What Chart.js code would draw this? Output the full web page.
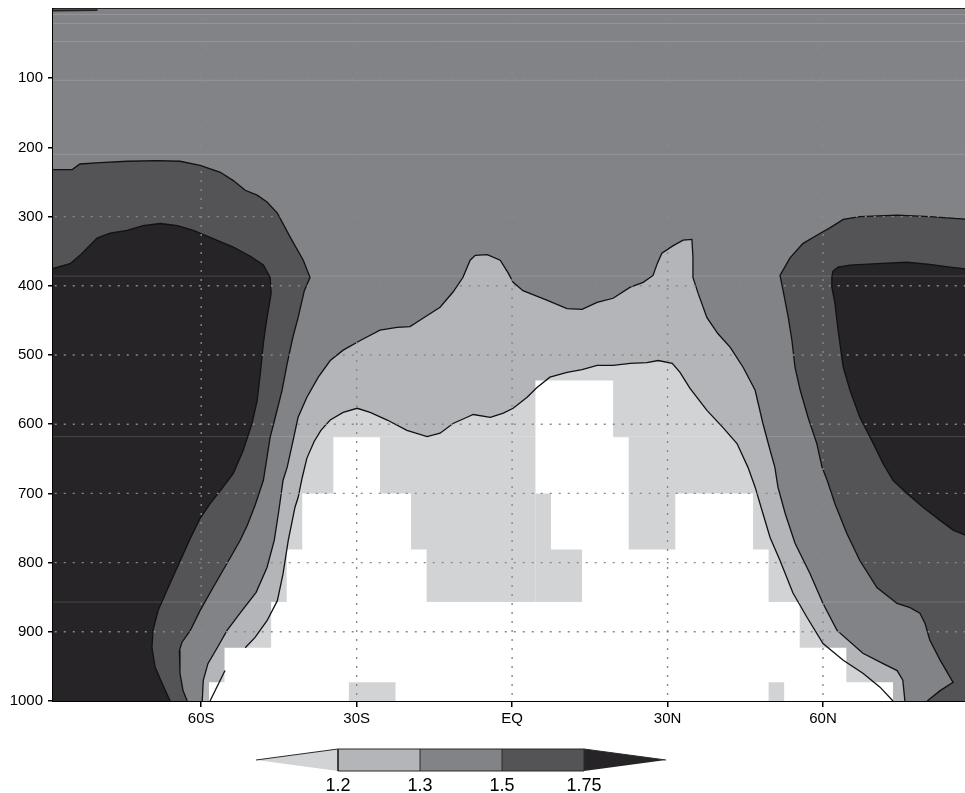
<!DOCTYPE html>
<html>
<head>
<meta charset="utf-8">
<title>Zonal mean cross-section</title>
<script src="https://cdn.jsdelivr.net/npm/chart.js@4.4.1/dist/chart.umd.min.js"></script>
<style>
  html, body { margin: 0; padding: 0; background: #fff; overflow: hidden; }
  canvas { display: block; }
</style>
</head>
<body>
<canvas id="plot" width="965" height="735"></canvas>
<canvas id="bar" width="965" height="58"></canvas>
<script>
// axes
const latTicks = [-60, -30, 0, 30, 60];
const latLabels = ['60S', '30S', 'EQ', '30N', '60N'];
const presTicks = [100, 200, 300, 400, 500, 600, 700, 800, 900, 1000];
const gridPres = [100, 200, 300, 400, 500, 600, 700, 800, 900];

// contour levels and the shade used below / between / above them
const levels = [1.2, 1.3, 1.5, 1.75];
const shades = ['#d2d3d5', '#b4b5b8', '#828387', '#545456', '#262426'];

// contours, [lat, hPa]
const c150South = [[-90,232],[-84.9,232],[-83.4,224],[-79.5,222],[-74.3,220],[-68.5,219],[-64.1,220],[-60.2,226],
  [-56.3,236],[-53.8,248],[-51.5,262],[-49.2,269],[-47.3,279],[-45.3,295],[-42.8,330],[-40.3,363],[-39.0,388],
  [-40.1,407],[-41.3,446],[-42.3,474],[-43.4,512],[-44.4,551],[-45.7,590],[-46.7,619],[-47.3,648],[-48.0,681],
  [-49.6,717],[-51.1,746],[-52.5,768],[-55.0,801],[-57.7,836],[-60.2,869],[-62.1,898],[-63.7,915],[-64.2,927],
  [-64.1,960],[-63.5,985],[-62.7,1000]];

const c175South = [[-90,378],[-85.3,368],[-83.4,356],[-80.1,331],[-77.6,324],[-74.3,320],[-71.2,313],[-67.9,310],
  [-64.6,313],[-61.5,320],[-58.3,330],[-53.8,344],[-50.6,357],[-48.0,370],[-46.7,388],[-46.5,411],[-47.3,446],
  [-48.0,483],[-48.6,527],[-49.2,566],[-50.2,599],[-51.9,638],[-53.8,671],[-56.3,696],[-58.3,715],[-60.2,736],
  [-62.1,765],[-64.2,800],[-66.6,840],[-68.3,869],[-69.3,898],[-69.5,923],[-68.9,951],[-67.5,975],[-66.0,1000]];

const c150North = [[90,305],[80.6,300],[74.3,298],[67.1,300],[63.9,304],[61.4,316],[58.8,327],[56.1,339],[53.6,360],
  [51.7,385],[52.3,407],[53.3,446],[54.0,479],[54.6,518],[55.6,551],[57.1,590],[58.8,628],[59.8,662],[60.8,681],
  [62.3,715],[64.6,758],[67.1,797],[70.4,836],[74.3,859],[76.8,865],[78.7,873],[79.7,888],[80.6,912],[82.6,941],
  [85.1,973],[82.6,985],[80.1,1000]];

const c175North = [[90,378],[84.5,373],[80.6,369],[76.2,366],[70.4,368],[65.2,370],[62.9,373],[61.9,379],[61.7,388],
  [61.7,402],[62.3,425],[62.9,464],[63.9,518],[65.2,551],[67.1,590],[69.1,619],[71.6,657],[73.5,681],[76.2,700],
  [79.3,720],[82.6,739],[85.1,753],[90,768]];

const c130 = [[-59.8,1000],[-59.6,970],[-58.7,946],[-56.9,923],[-55.0,898],[-52.5,873],[-49.4,843],[-47.3,807],
  [-45.9,768],[-45.0,724],[-44.2,681],[-43.4,662],[-42.4,628],[-41.3,590],[-39.6,561],[-37.4,532],[-35.1,508],
  [-32.6,493],[-29.3,479],[-25.5,464],[-22.2,460],[-19.7,459],[-17.2,447],[-13.9,431],[-11.4,409],[-9.5,388],
  [-8.1,363],[-7.1,356],[-4.8,355],[-2.3,363],[-0.8,381],[0.2,395],[2.1,407],[6.8,421],[10.6,433],[13.5,434],
  [16.4,424],[19.5,418],[22.8,402],[25.3,395],[27.2,385],[28.0,368],[28.9,353],[31.1,342],[33.0,334],[34.7,333],
  [34.9,359],[34.9,388],[35.9,411],[37.6,446],[39.7,469],[42.1,489],[44.6,518],[46.9,551],[48.4,599],[49.8,638],
  [50.7,662],[51.3,691],[52.7,729],[54.6,772],[57.5,816],[60.0,859],[62.7,898],[67.7,931],[71.6,946],[74.3,956],
  [75.4,970],[75.8,1000]];

const c120 = [[-58.3,1000],[-55.4,956],[-51.5,923],[-49.6,908],[-47.3,884],[-45.3,855],[-44.2,816],[-43.2,768],
  [-41.9,720],[-41.3,706],[-40.5,677],[-39.6,649],[-38.2,625],[-36.9,609],[-35.1,594],[-32.6,583],[-29.9,577],
  [-27.4,583],[-24.1,594],[-20.3,609],[-16.4,618],[-13.9,613],[-11.4,599],[-8.7,590],[-7.5,586],[-4.2,590],
  [-1.7,584],[0.2,577],[2.9,561],[4.8,547],[7.3,532],[10.6,525],[13.5,521],[16.4,515],[19.5,515],[22.8,512],
  [26.0,511],[28.2,508],[30.9,512],[32.4,525],[34.3,548],[37.6,580],[40.7,605],[43.4,628],[45.5,662],[46.9,691],
  [48.2,724],[49.8,764],[51.7,797],[54.2,844],[56.9,879],[60.0,917],[63.9,941],[67.7,960],[71.0,980],[73.5,1000]];

// grid boxes with no shading near the surface
const blankCells = [[-58.5,1000],[-58.5,973],[-55.5,973],[-55.5,923],[-46.5,923],[-46.5,857],[-43.5,857],
  [-43.5,781],[-40.5,781],[-40.5,700],[-34.5,700],[-34.5,619],[-25.5,619],[-25.5,700],[-19.5,700],[-19.5,781],
  [-16.5,781],[-16.5,857],[4.5,857],[4.5,537],[19.5,537],[19.5,619],[22.5,619],[22.5,781],[31.5,781],[31.5,700],
  [46.5,700],[46.5,781],[49.5,781],[49.5,857],[55.5,857],[55.5,923],[64.5,923],[64.5,973],[73.5,973],[73.5,1000]];
const cellsEq = [[4.5,700],[7.5,700],[7.5,781],[13.5,781],[13.5,857],[4.5,857]];
const cellsS = [[-31.5,973],[-22.5,973],[-22.5,1000],[-31.5,1000]];
const cellsN = [[49.5,973],[52.5,973],[52.5,1000],[49.5,1000]];

// faint seams left by the level bands
const seamLevels = [8, 21, 47, 103, 210, 386, 618, 857];
const topFragment = [[-90, 2.3], [-80, 1.6]];

const domain = [[-90,0],[90,0],[90,1000],[-90,1000]];

Chart.defaults.font.family = "'Liberation Sans', Arial, sans-serif";
Chart.defaults.color = '#000';

const toPts = arr => arr.map(([x, y]) => ({x, y}));

function area(points, color, extra) {
  return Object.assign({
    data: toPts(points), showLine: true, fill: 'shape',
    backgroundColor: color, borderWidth: 0, pointRadius: 0
  }, extra || {});
}

function curve(points, width, color, dash) {
  return {
    data: toPts(points), showLine: true, fill: false,
    borderColor: color, borderWidth: width, borderDash: dash || [],
    pointRadius: 0
  };
}

const layers = [
  area(domain, shades[2]),
  area([...c150South, [-90, 1000]], shades[3]),
  area([...c150North, [90, 1000]], shades[3]),
  area([...c175South, [-90, 1000]], shades[4]),
  area(c175North, shades[4]),
  area(c130, shades[1]),
  area(c120, shades[0]),
  area(blankCells, '#ffffff'),
  area(cellsEq, shades[0]),
  area(cellsS, shades[0]),
  area(cellsN, shades[0]),
  ...seamLevels.map(p => curve([[-90, p], [90, p]], 1, 'rgba(255,255,255,0.16)')),
  curve(c150South, 1.3, '#111'),
  curve(c150North, 1.3, '#111'),
  curve(c175South, 1.3, '#111'),
  curve(c175North, 1.3, '#111'),
  curve(c130, 1.3, '#111'),
  curve(c120.slice(0, 2), 1.3, '#111'),
  curve(c120.slice(2), 1.3, '#111'),
  curve(topFragment, 1.8, '#222'),
  ...latTicks.map(v => curve([[v, 0], [v, 1000]], 1.4, '#88898c', [2, 7])),
  ...gridPres.map(p => curve([[-90, p], [90, p]], 1.4, '#88898c', [2, 7]))
];
// later layers are drawn on top
layers.forEach((d, i) => { d.order = layers.length - i; });

new Chart(document.getElementById('plot'), {
  type: 'scatter',
  data: { datasets: layers },
  options: {
    responsive: false,
    animation: false,
    events: [],
    layout: { padding: 0 },
    plugins: { legend: { display: false }, tooltip: { enabled: false } },
    elements: { line: { tension: 0 } },
    scales: {
      x: {
        type: 'linear', position: 'bottom', min: -88.6, max: 87.4,
        afterBuildTicks: s => { s.ticks = latTicks.map(v => ({ value: v })); },
        afterFit: s => { s.height = 34; s.paddingLeft = 0; s.paddingRight = 0; },
        ticks: {
          callback: v => latLabels[latTicks.indexOf(v)],
          font: { size: 15 }, color: '#000', padding: 3, autoSkip: false, maxRotation: 0
        },
        grid: { drawOnChartArea: false, drawTicks: true, tickLength: 6, color: '#000', lineWidth: 1.5 },
        border: { display: true, color: '#000', width: 2 }
      },
      xTop: {
        type: 'linear', position: 'top', min: -88.6, max: 87.4,
        afterFit: s => { s.height = 9; s.paddingLeft = 0; s.paddingRight = 0; },
        ticks: { display: false },
        grid: { display: false, drawTicks: false },
        border: { display: true, color: '#222', width: 2.5 }
      },
      y: {
        type: 'linear', min: 0, max: 1000, reverse: true,
        afterBuildTicks: s => { s.ticks = presTicks.map(v => ({ value: v })); },
        afterFit: s => { s.width = 53; s.paddingTop = 0; s.paddingBottom = 0; },
        ticks: { callback: v => String(v), font: { size: 15 }, color: '#000', padding: 5, autoSkip: false },
        grid: { drawOnChartArea: false, drawTicks: true, tickLength: 5, color: '#000', lineWidth: 1.5 },
        border: { display: true, color: '#000', width: 2 }
      }
    }
  }
});

// colour key: triangle ends for values beyond the outer levels
const keyShapes = [
  [[0, 0], [1, 1], [1, -1]],
  [[1, -1], [2, -1], [2, 1], [1, 1]],
  [[2, -1], [3, -1], [3, 1], [2, 1]],
  [[3, -1], [4, -1], [4, 1], [3, 1]],
  [[4, -1], [4, 1], [5, 0]]
];

new Chart(document.getElementById('bar'), {
  type: 'scatter',
  data: {
    datasets: keyShapes.map((pts, i) => area(pts, shades[i], {
      borderWidth: 1, borderColor: '#2a2a2a', clip: false
    }))
  },
  options: {
    responsive: false,
    animation: false,
    events: [],
    layout: { padding: { left: 256, right: 299, top: 14, bottom: 0 } },
    plugins: { legend: { display: false }, tooltip: { enabled: false } },
    elements: { line: { tension: 0 } },
    scales: {
      x: {
        type: 'linear', min: 0, max: 5,
        afterBuildTicks: s => { s.ticks = levels.map((v, i) => ({ value: i + 1 })); },
        afterFit: s => { s.height = 22; },
        ticks: {
          callback: v => String(levels[v - 1]),
          font: { size: 18 }, color: '#000', padding: 4, autoSkip: false, maxRotation: 0
        },
        grid: { display: false, drawTicks: false },
        border: { display: false }
      },
      y: { display: false, min: -1, max: 1 }
    }
  }
});
</script>
</body>
</html>
